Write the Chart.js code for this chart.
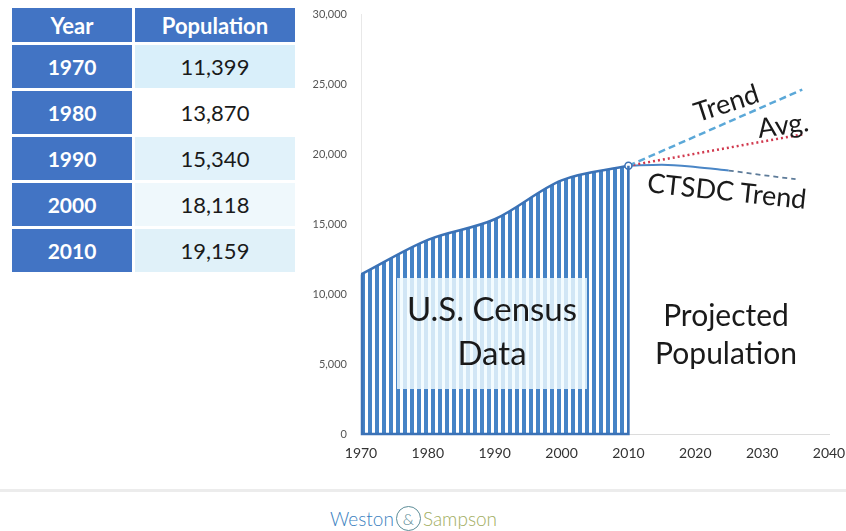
<!DOCTYPE html>
<html>
<head>
<meta charset="utf-8">
<script src="https://cdn.jsdelivr.net/npm/chart.js@4.4.1/dist/chart.umd.min.js"></script>
<style>
  body { margin: 0; width: 846px; height: 531px; background: #fff; position: relative; overflow: hidden; font-family: Lato, "Open Sans", sans-serif; }
  #popTable { position: absolute; left: 9px; top: 5px; border-collapse: separate; border-spacing: 3px; }
  #popTable td, #popTable th { padding: 0; text-align: center; }
  #popTable th { height: 34px; background: #4274c4; color: #fff; font-size: 22px; font-weight: bold; }
  #popTable td { height: 43px; font-size: 22px; }
  #popTable td.yr { width: 120px; background: #4274c4; color: #fff; font-weight: bold; font-size: 21px; }
  #popTable td.pop { width: 160px; color: #1a1a1a; }
  #chartWrap { position: absolute; left: 300px; top: 0; width: 546px; height: 470px; }
  .lbl { position: absolute; color: #1a1a1a; white-space: nowrap; }
  #censusBox { position: absolute; left: 397px; top: 278px; width: 190px; height: 111px; background: rgba(240, 251, 255, 0.82); text-align: center; font-size: 33px; line-height: 44px; padding-top: 8px; box-sizing: border-box; color: #1a1a1a; }
  #projected { left: 616px; top: 295px; width: 220px; text-align: center; font-size: 30px; line-height: 38px; }
  .rot { font-size: 27px; }
  #footLine { position: absolute; left: 0; top: 489px; width: 846px; height: 3px; background: #ececec; }
  #logo { position: absolute; left: 330px; top: 506px; font-size: 19px; font-weight: 300; display: flex; align-items: center; }
  #logo .amp { display: inline-block; width: 23px; height: 23px; border: 1.5px solid #5d8d98; border-radius: 50%; color: #5d8d98; text-align: center; line-height: 23px; margin: 0 2px; font-size: 16px; }
</style>
</head>
<body>
<table id="popTable">
  <thead><tr><th>Year</th><th>Population</th></tr></thead>
  <tbody id="popBody"></tbody>
</table>

<div id="chartWrap"><canvas id="popChart"></canvas></div>

<div id="censusBox">U.S. Census<br>Data</div>
<div class="lbl" id="projected">Projected<br>Population</div>
<div class="lbl rot" style="left:726px; top:102px; transform: translate(-50%,-50%) rotate(-18deg);">Trend</div>
<div class="lbl rot" style="left:783px; top:124px; transform: translate(-50%,-50%) rotate(-8deg);">Avg.</div>
<div class="lbl rot" style="left:727px; top:190px; transform: translate(-50%,-50%) rotate(6deg);">CTSDC Trend</div>

<div id="footLine"></div>
<div id="logo"><span style="color:#3a7fc0">Weston</span><span class="amp">&amp;</span><span style="color:#a1ad5e">Sampson</span></div>

<script>
const censusYears = [1970, 1980, 1990, 2000, 2010];
const censusPop = [11399, 13870, 15340, 18118, 19159];

const trendYears = [2010, 2036];
const trendPop = [19159, 24600];

const avgYears = [2010, 2036];
const avgPop = [19159, 21400];

const ctsdcYears = [2010, 2015, 2020, 2025];
const ctsdcPop = [19159, 19230, 19080, 18820];
const ctsdcExtYears = [2025, 2030, 2035];
const ctsdcExtPop = [18820, 18500, 18200];

const xTicks = [1970, 1980, 1990, 2000, 2010, 2020, 2030, 2040];
const yTicks = [0, 5000, 10000, 15000, 20000, 25000, 30000];

const rowColors = ['#d9effa', '#ffffff', '#e1f2fa', '#eff8fc', '#e0f1f9'];

function fillTable() {
  document.getElementById('popBody').innerHTML = censusYears.map((y, i) => `
    <tr><td class="yr">${y}</td><td class="pop" style="background:${rowColors[i]}">${censusPop[i].toLocaleString('en-US')}</td></tr>
  `).join('');
}

function pts(xs, ys) {
  return xs.map((x, i) => ({ x: x, y: ys[i] }));
}

function makeStripes(ctx) {
  const tile = document.createElement('canvas');
  tile.width = 7; tile.height = 4;
  const g = tile.getContext('2d');
  g.fillStyle = '#ffffff';
  g.fillRect(0, 0, 7, 4);
  g.fillStyle = '#4583c6';
  g.fillRect(0, 0, 4, 4);
  return ctx.createPattern(tile, 'repeat');
}

// lines the left and bottom edge of the census area, and keeps the stripes lined up with the axis
const areaEdges = {
  id: 'areaEdges',
  afterLayout(chart) {
    const p = chart.data.datasets[0].backgroundColor;
    if (p && p.setTransform) p.setTransform(new DOMMatrix([1, 0, 0, 1, chart.chartArea.left, 0]));
  },
  afterDatasetsDraw(chart) {
    const { ctx, scales: { x, y } } = chart;
    const x0 = x.getPixelForValue(censusYears[0]);
    const x1 = x.getPixelForValue(censusYears[censusYears.length - 1]);
    const yb = y.getPixelForValue(0);
    ctx.save();
    ctx.strokeStyle = '#3b72b6';
    ctx.lineWidth = 2.5;
    ctx.beginPath();
    ctx.moveTo(x0 + 1, y.getPixelForValue(censusPop[0]));
    ctx.lineTo(x0 + 1, yb);
    ctx.lineTo(x1, yb);
    ctx.lineTo(x1, y.getPixelForValue(censusPop[censusPop.length - 1]));
    ctx.stroke();
    ctx.restore();
  }
};

function renderChart() {
  const canvas = document.getElementById('popChart');
  const stripes = makeStripes(canvas.getContext('2d'));
  const font = { family: 'Lato, "Open Sans", sans-serif' };

  new Chart(canvas, {
    type: 'line',
    data: {
      datasets: [{
        label: 'U.S. Census',
        data: pts(censusYears, censusPop),
        fill: 'origin',
        backgroundColor: stripes,
        borderColor: '#3b72b6',
        borderWidth: 2.5,
        cubicInterpolationMode: 'monotone',
        pointRadius: [0, 0, 0, 0, 3.5],
        pointBackgroundColor: '#ffffff',
        pointBorderColor: '#3b72b6',
        pointBorderWidth: 1.5
      }, {
        label: 'Trend',
        data: pts(trendYears, trendPop),
        borderColor: '#5ba8d8',
        borderDash: [7, 4],
        borderWidth: 2.5,
        pointRadius: 0
      }, {
        label: 'Avg.',
        data: pts(avgYears, avgPop),
        borderColor: '#d1394e',
        borderDash: [2, 3],
        borderWidth: 2.5,
        pointRadius: 0
      }, {
        label: 'CTSDC Trend',
        data: pts(ctsdcYears, ctsdcPop),
        borderColor: '#4a86c6',
        borderWidth: 2,
        cubicInterpolationMode: 'monotone',
        pointRadius: 0
      }, {
        label: 'CTSDC Trend (ext)',
        data: pts(ctsdcExtYears, ctsdcExtPop),
        borderColor: '#5d7b99',
        borderDash: [5, 4],
        borderWidth: 1.8,
        pointRadius: 0
      }]
    },
    options: {
      responsive: true,
      maintainAspectRatio: false,
      animation: false,
      layout: { padding: { left: 0, right: 17, top: 14, bottom: 0 } },
      plugins: { legend: { display: false }, tooltip: { enabled: false } },
      scales: {
        x: {
          type: 'linear', min: 1970, max: 2040,
          afterBuildTicks: s => { s.ticks = xTicks.map(v => ({ value: v })); },
          afterFit: s => { s.height = 36; s.paddingLeft = 0; s.paddingRight = 0; },
          ticks: { callback: v => String(v), color: '#333', font: { ...font, size: 14 }, padding: 11, maxRotation: 0, autoSkip: false },
          grid: { display: false, drawTicks: false },
          border: { display: true, color: '#dcdcdc', width: 1 }
        },
        y: {
          min: 0, max: 30000,
          afterBuildTicks: s => { s.ticks = yTicks.map(v => ({ value: v })); },
          afterFit: s => { s.width = 61; s.paddingTop = 0; s.paddingBottom = 0; },
          ticks: { callback: v => v.toLocaleString('en-US'), color: '#555', font: { ...font, size: 11 }, padding: 14 },
          grid: { display: false, drawTicks: false },
          border: { display: true, color: '#e8e8e8', width: 1 }
        }
      }
    },
    plugins: [areaEdges]
  });
}

fillTable();
renderChart();
</script>
</body>
</html>
